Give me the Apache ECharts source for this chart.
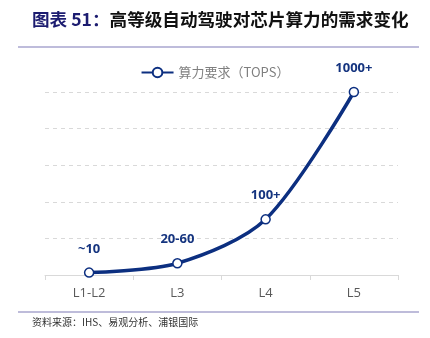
<!DOCTYPE html>
<html><head><meta charset="utf-8">
<script src="https://cdn.jsdelivr.net/npm/echarts@6/dist/echarts.min.js"></script>
<style>html,body{margin:0;padding:0;background:#fff}#c{width:430px;height:338px}</style>
</head><body><div id="c"></div>
<script>
const categories = ['L1-L2', 'L3', 'L4', 'L5'];
const values = [13, 64, 304, 1000];
const pointLabels = ['~10', '20-60', '100+', '1000+'];
const seriesName = '算力要求（TOPS）';
const titlePrefix = '图表 51：';
const titleText = '高等级自动驾驶对芯片算力的需求变化';
const sourceText = '资料来源：IHS、易观分析、浦银国际';

const chart = echarts.init(document.getElementById('c'));
const navy = '#0c2f80';
chart.setOption({
  animation: false,
  title: {
    text: '{a|' + titlePrefix + '}{b|' + titleText + '}',
    left: 27, top: 6,
    textStyle: {
      rich: {
        a: {color: '#1c1c70', fontSize: 17.6, fontWeight: 'bold', fontFamily: 'Noto Sans CJK SC'},
        b: {color: '#111', fontSize: 17.6, fontWeight: 'bold', fontFamily: 'Noto Sans CJK SC'}
      }
    }
  },
  legend: {
    top: 61, left: 'center',
    itemWidth: 32, itemHeight: 12, itemGap: 10,
    textStyle: {color: '#7f7f7f', fontSize: 13, fontFamily: 'Noto Sans CJK SC'},
    data: [seriesName]
  },
  grid: {left: 45, right: 32, top: 92, bottom: 63},
  xAxis: {
    type: 'category', data: categories, boundaryGap: true,
    axisLine: {lineStyle: {color: '#d9d9d9', width: 1}},
    axisTick: {show: true, length: 5, lineStyle: {color: '#d9d9d9'}},
    axisLabel: {color: '#595959', fontSize: 13, margin: 12, fontFamily: 'Open Sans'}
  },
  yAxis: {
    type: 'value', min: 0, max: 1000, interval: 200,
    axisLabel: {show: false}, axisLine: {show: false}, axisTick: {show: false},
    splitLine: {lineStyle: {color: '#d9d9d9', type: [4, 4], width: 1}}
  },
  series: [{
    name: seriesName, type: 'line', data: values, smooth: 0.3,
    lineStyle: {color: navy, width: 3.5},
    itemStyle: {color: '#fff', borderColor: navy, borderWidth: 1.5},
    symbol: 'circle', symbolSize: 9, showAllSymbol: true,
    label: {
      show: true, position: 'top', distance: 12,
      color: '#15347f', fontSize: 13, fontWeight: 'bold', fontFamily: 'Open Sans',
      formatter: p => pointLabels[p.dataIndex]
    }
  }],
  graphic: [
    {type: 'line', shape: {x1: 18, y1: 47, x2: 419, y2: 47}, style: {stroke: '#a9a6cf', lineWidth: 1.5}},
    {type: 'line', shape: {x1: 18, y1: 312, x2: 419, y2: 312}, style: {stroke: '#7f7bb5', lineWidth: 1.2}},
    {type: 'text', left: 32, top: 317, style: {text: sourceText, fill: '#333', fontSize: 10, fontFamily: 'Noto Sans CJK SC'}}
  ]
});
</script></body></html>
